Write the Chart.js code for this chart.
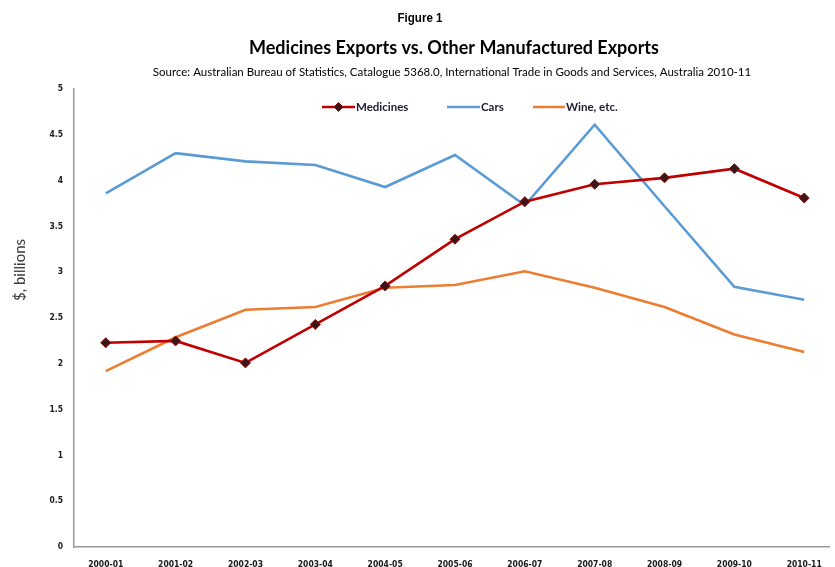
<!DOCTYPE html>
<html>
<head>
<meta charset="utf-8">
<title>Medicines Exports vs. Other Manufactured Exports</title>
<script src="https://cdn.jsdelivr.net/npm/chart.js@4"></script>
<style>
  html, body { margin: 0; padding: 0; background: #ffffff; }
  #wrap { width: 835px; height: 567px; }
</style>
</head>
<body>
<div id="wrap"><canvas id="chart" width="835" height="567"></canvas></div>
<script>
// Financial years on the horizontal axis
const years = ['2000-01', '2001-02', '2002-03', '2003-04', '2004-05', '2005-06',
               '2006-07', '2007-08', '2008-09', '2009-10', '2010-11'];

// Export values, $ billions
const medicines = [2.23, 2.25, 2.01, 2.43, 2.85, 3.36, 3.77, 3.96, 4.03, 4.13, 3.81];
const cars      = [3.86, 4.30, 4.21, 4.17, 3.93, 4.28, 3.73, 4.61, 3.72, 2.84, 2.70];
const wine      = [1.92, 2.29, 2.59, 2.62, 2.83, 2.86, 3.01, 2.83, 2.62, 2.32, 2.13];

// Value axis ticks
const yTicks = [0, 0.5, 1, 1.5, 2, 2.5, 3, 3.5, 4, 4.5, 5];

const seriesNames = ['Medicines', 'Cars', 'Wine, etc.'];

const figureLabel = 'Figure 1';
const chartTitle = 'Medicines Exports vs. Other Manufactured Exports';
const chartSource = 'Source: Australian Bureau of Statistics, Catalogue 5368.0, International Trade in Goods and Services, Australia 2010-11';
const yAxisTitle = '$, billions';

const narrowBold = "'Liberation Sans Narrow', 'DejaVu Sans Condensed', 'Liberation Sans', sans-serif";

const toPoints = arr => arr.map((v, i) => ({ x: i, y: v }));

// Headings above the plot and the value-axis caption
const headingPlugin = {
  id: 'headings',
  afterDraw(chart) {
    const ctx = chart.ctx;
    ctx.save();
    ctx.textAlign = 'center';
    ctx.textBaseline = 'middle';
    ctx.fillStyle = '#000000';
    ctx.font = "bold 12px 'Liberation Sans', Arial, sans-serif";
    ctx.fillText(figureLabel, 420, 19, 45);
    ctx.font = "bold 18px Lato, 'Open Sans', sans-serif";
    ctx.fillText(chartTitle, 454, 48, 450);
    ctx.font = "11.5px Lato, 'Open Sans', sans-serif";
    ctx.fillText(chartSource, 452, 72, 696);

    ctx.translate(20, 270);
    ctx.rotate(-Math.PI / 2);
    ctx.fillStyle = '#383838';
    ctx.font = "15px Lato, 'Open Sans', sans-serif";
    ctx.fillText(yAxisTitle, 0, 0);
    ctx.restore();
  }
};

// Legend drawn inside the plot, under its top edge
const legendPlugin = {
  id: 'insideLegend',
  afterDatasetsDraw(chart) {
    const ctx = chart.ctx;
    const items = [
      { line: [322, 355], text: 356, width: 64 },
      { line: [447, 480], text: 481, width: 24 },
      { line: [533, 565], text: 566, width: 64 }
    ];
    const y = 107;
    ctx.save();
    items.forEach((it, i) => {
      const ds = chart.data.datasets[i];
      ctx.strokeStyle = ds.borderColor;
      ctx.lineWidth = 2.5;
      ctx.beginPath();
      ctx.moveTo(it.line[0], y);
      ctx.lineTo(it.line[1], y);
      ctx.stroke();
      if (ds.pointRadius > 0) {
        const cx = (it.line[0] + it.line[1]) / 2, r = 4.5;
        ctx.fillStyle = ds.pointBackgroundColor;
        ctx.strokeStyle = ds.pointBorderColor;
        ctx.lineWidth = 1;
        ctx.beginPath();
        ctx.moveTo(cx, y - r);
        ctx.lineTo(cx + r, y);
        ctx.lineTo(cx, y + r);
        ctx.lineTo(cx - r, y);
        ctx.closePath();
        ctx.fill();
        ctx.stroke();
      }
      ctx.fillStyle = '#1c1c30';
      ctx.font = "bold 11.5px Lato, 'Open Sans', sans-serif";
      ctx.textAlign = 'left';
      ctx.textBaseline = 'middle';
      ctx.fillText(ds.label, it.text, y, it.width);
    });
    ctx.restore();
  }
};

new Chart(document.getElementById('chart'), {
  type: 'line',
  data: {
    datasets: [
      {
        label: seriesNames[0],
        data: toPoints(medicines),
        borderColor: '#C00000',
        borderWidth: 2.6,
        pointStyle: 'rectRot',
        pointRadius: 5,
        pointBackgroundColor: '#3a1616',
        pointBorderColor: '#8a0a0a',
        pointBorderWidth: 1,
        tension: 0
      },
      {
        label: seriesNames[1],
        data: toPoints(cars),
        borderColor: '#5B9BD5',
        borderWidth: 2.6,
        pointRadius: 0,
        tension: 0
      },
      {
        label: seriesNames[2],
        data: toPoints(wine),
        borderColor: '#ED7D31',
        borderWidth: 2.6,
        pointRadius: 0,
        tension: 0
      }
    ]
  },
  options: {
    responsive: false,
    animation: false,
    layout: { padding: { top: 89, right: 0, bottom: 0, left: 0 } },
    plugins: {
      legend: { display: false },
      title: { display: false },
      tooltip: { enabled: false }
    },
    scales: {
      x: {
        type: 'linear',
        min: -0.455,
        max: 10.355,
        grid: { display: false, drawTicks: false },
        border: { display: true, color: '#9a9a9a', width: 1.5 },
        afterBuildTicks(scale) {
          scale.ticks = years.map((_, i) => ({ value: i }));
        },
        afterFit(scale) { scale.height = 20; },
        ticks: {
          autoSkip: false,
          maxRotation: 0,
          padding: 13,
          color: '#1a1a1a',
          font: { family: narrowBold, size: 8.5, weight: 'bold' },
          callback: v => years[v]
        }
      },
      y: {
        min: yTicks[0],
        max: yTicks[yTicks.length - 1],
        grid: { display: false, drawTicks: false },
        border: { display: true, color: '#9a9a9a', width: 1.5 },
        afterBuildTicks(scale) {
          scale.ticks = yTicks.map(v => ({ value: v }));
        },
        afterFit(scale) { scale.width = 74; },
        ticks: {
          padding: 11,
          color: '#1a1a1a',
          font: { family: narrowBold, size: 8.5, weight: 'bold' },
          callback: v => String(v)
        }
      }
    }
  },
  plugins: [headingPlugin, legendPlugin]
});
</script>
</body>
</html>
